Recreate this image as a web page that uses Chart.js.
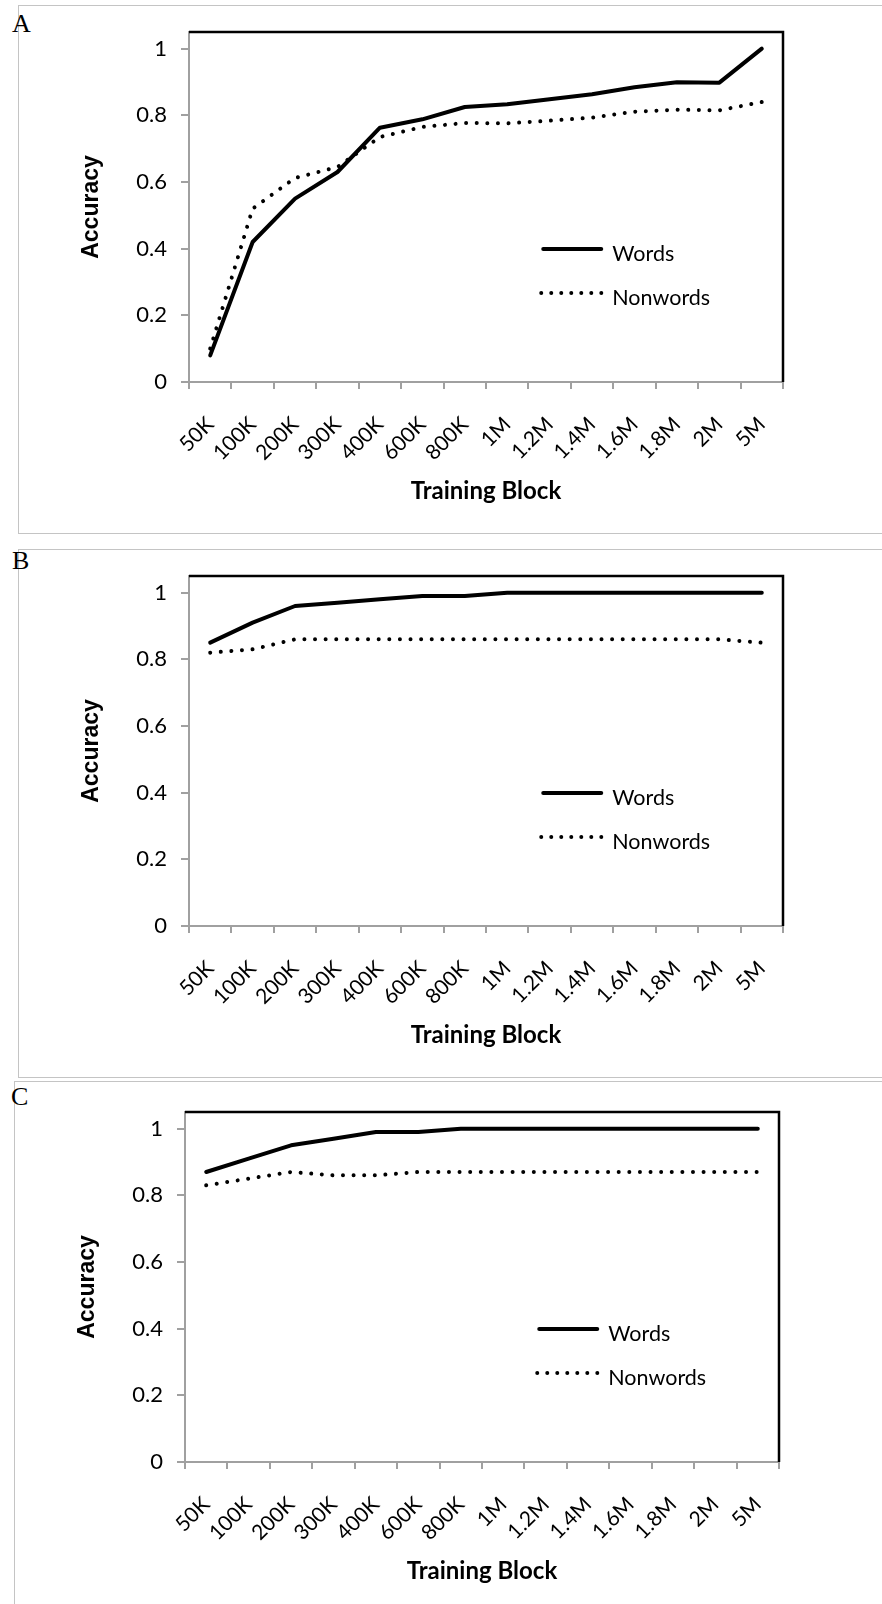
<!DOCTYPE html>
<html lang="en">
  <head>
    <meta charset="UTF-8" />
    <title>Accuracy by training block</title>
    <script src="https://cdn.jsdelivr.net/npm/chart.js@4/dist/chart.umd.min.js"></script>
    <style>
      body { margin: 0; background: #fff; width: 882px; height: 1604px; position: relative; overflow: hidden; }
      .frame { position: absolute; border: 1px solid #c4c4c4; }
      .letter { position: absolute; font-family: "Liberation Serif", "Times New Roman", serif; font-size: 26px; line-height: 1; color: #000; }
      canvas { position: absolute; }
    </style>
  </head>
  <body>
    <div class="frame" style="left:18px;top:5px;width:900px;height:527px"></div>
    <div class="frame" style="left:18px;top:549px;width:900px;height:527px"></div>
    <div class="frame" style="left:14px;top:1081px;width:900px;height:600px"></div>
    <div class="letter" style="left:12px;top:11px">A</div>
    <div class="letter" style="left:12px;top:548px">B</div>
    <div class="letter" style="left:11px;top:1084px">C</div>

    <canvas id="chartA" width="882" height="524" style="left:0;top:0"></canvas>
    <canvas id="chartB" width="882" height="524" style="left:0;top:544px"></canvas>
    <canvas id="chartC" width="882" height="524" style="left:-4px;top:1080px"></canvas>

    <script>
      // categorias del eje x
      var bloques = ["50K", "100K", "200K", "300K", "400K", "600K", "800K", "1M", "1.2M", "1.4M", "1.6M", "1.8M", "2M", "5M"];
      var ticksY = [0, 0.2, 0.4, 0.6, 0.8, 1];

      // panel A
      var palabrasA = [0.08, 0.42, 0.55, 0.63, 0.763, 0.788, 0.825, 0.833, 0.848, 0.863, 0.884, 0.899, 0.898, 1.0];
      var noPalabrasA = [0.1, 0.52, 0.612, 0.645, 0.735, 0.765, 0.777, 0.776, 0.784, 0.793, 0.811, 0.817, 0.815, 0.84];
      // panel B
      var palabrasB = [0.85, 0.91, 0.96, 0.97, 0.98, 0.99, 0.99, 1.0, 1.0, 1.0, 1.0, 1.0, 1.0, 1.0];
      var noPalabrasB = [0.82, 0.83, 0.86, 0.86, 0.86, 0.86, 0.86, 0.86, 0.86, 0.86, 0.86, 0.86, 0.86, 0.85];
      // panel C
      var palabrasC = [0.87, 0.91, 0.95, 0.97, 0.99, 0.99, 1.0, 1.0, 1.0, 1.0, 1.0, 1.0, 1.0, 1.0];
      var noPalabrasC = [0.83, 0.85, 0.87, 0.86, 0.86, 0.87, 0.87, 0.87, 0.87, 0.87, 0.87, 0.87, 0.87, 0.87];

      Chart.defaults.font.family = "Lato";
      Chart.defaults.color = "#000";

      var gris = "#a0a0a0";

      // marco negro arriba/derecha y leyenda dentro del area
      var marcoYLeyenda = {
        id: "marcoYLeyenda",
        afterDatasetsDraw: function (chart) {
          var ctx = chart.ctx;
          var a = chart.chartArea;
          ctx.save();
          ctx.strokeStyle = "#000";
          ctx.lineWidth = 2.5;
          ctx.beginPath();
          ctx.moveTo(a.left, a.top);
          ctx.lineTo(a.right, a.top);
          ctx.lineTo(a.right, a.bottom);
          ctx.stroke();

          var w = a.right - a.left;
          var h = a.bottom - a.top;
          var x0 = a.left + 0.593 * w;
          var filas = [0.62, 0.746];
          chart.data.datasets.forEach(function (ds, i) {
            var y = a.top + filas[i] * h;
            ctx.strokeStyle = ds.borderColor;
            ctx.lineWidth = ds.borderWidth;
            ctx.lineCap = ds.borderCapStyle;
            ctx.beginPath();
            if (ds.borderDash.length) {
              // 7 puntos en la muestra
              ctx.setLineDash([0.01, 10]);
              ctx.moveTo(x0, y);
              ctx.lineTo(x0 + 60.5, y);
            } else {
              ctx.setLineDash([]);
              ctx.moveTo(x0 + 2, y);
              ctx.lineTo(x0 + 60, y);
            }
            ctx.stroke();
            ctx.setLineDash([]);
            ctx.fillStyle = "#000";
            ctx.font = "21.5px Lato";
            ctx.textBaseline = "alphabetic";
            ctx.fillText(ds.label, x0 + 71, y + 11.5);
          });
          ctx.restore();
        },
      };

      function crearGrafica(id, palabras, noPalabras) {
        return new Chart(document.getElementById(id), {
          type: "line",
          data: {
            labels: bloques,
            datasets: [
              {
                label: "Words",
                data: palabras,
                borderColor: "#000",
                borderWidth: 4,
                borderCapStyle: "round",
                borderJoinStyle: "round",
                borderDash: [],
                pointRadius: 0,
                tension: 0,
              },
              {
                label: "Nonwords",
                data: noPalabras,
                borderColor: "#000",
                borderWidth: 4,
                borderCapStyle: "round",
                borderJoinStyle: "round",
                borderDash: [0.01, 10.6],
                pointRadius: 0,
                tension: 0,
              },
            ],
          },
          options: {
            responsive: false,
            animation: false,
            layout: { padding: { left: 0, top: 32, right: 99, bottom: 0 } },
            plugins: { legend: { display: false }, tooltip: { enabled: false } },
            scales: {
              x: {
                offset: true,
                grid: { offset: true, drawOnChartArea: false, tickLength: 7, color: gris, lineWidth: 2 },
                border: { color: gris, width: 2 },
                ticks: { autoSkip: false, minRotation: 45, maxRotation: 45, padding: 23, font: { size: 21 } },
                title: {
                  display: true,
                  text: "Training Block",
                  font: { size: 24, weight: "bold" },
                  padding: { top: 0, bottom: 18 },
                },
                afterFit: function (s) {
                  s.height = 142;
                },
              },
              y: {
                min: 0,
                max: 1.05,
                grid: { drawOnChartArea: false, tickLength: 8, color: gris, lineWidth: 2 },
                border: { color: gris, width: 2 },
                ticks: {
                  padding: 14,
                  font: { size: 22 },
                  callback: function (v) {
                    return String(+v.toFixed(1));
                  },
                },
                afterBuildTicks: function (s) {
                  s.ticks = ticksY.map(function (v) {
                    return { value: v };
                  });
                },
                title: {
                  display: true,
                  text: "Accuracy",
                  font: { family: "Liberation Sans", size: 23, weight: "bold" },
                  padding: { top: 78, bottom: 0 },
                },
                afterFit: function (s) {
                  s.width = 189;
                },
              },
            },
          },
          plugins: [marcoYLeyenda],
        });
      }

      crearGrafica("chartA", palabrasA, noPalabrasA);
      crearGrafica("chartB", palabrasB, noPalabrasB);
      crearGrafica("chartC", palabrasC, noPalabrasC);
    </script>
  </body>
</html>
